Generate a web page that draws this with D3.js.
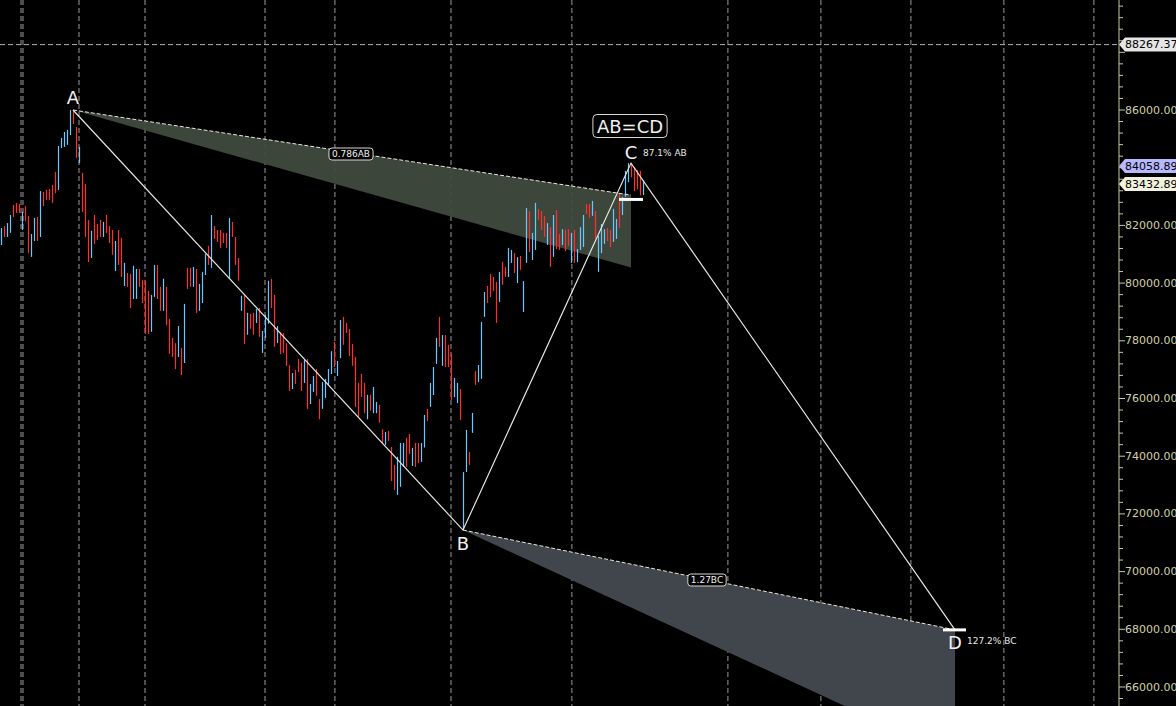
<!DOCTYPE html>
<html>
<head>
<meta charset="utf-8">
<script src="https://cdn.jsdelivr.net/npm/d3@7/dist/d3.min.js"></script>
<style>
  body { margin: 0; background: #000; }
  svg { display: block; }
</style>
</head>
<body>
<div id="chart"></div>
<script>
// bar highs / lows (one bar per session)
const highs = [
  81910, 81980, 82080, 82360, 82710, 82780, 82740, 82470, 82670, 82330,
  81700, 82260, 82290, 83190, 83160, 83230, 83260, 83400, 83850, 84750,
  85030, 85240, 85310, 86000, 86000, 85410, 84720, 83820, 83440, 82190,
  81810, 82360, 82050, 82190, 82120, 82360, 81980, 81840, 81460, 81840,
  81560, 80700, 80350, 80320, 80600, 80490, 80490, 80110, 80080, 79730,
  79590, 80630, 80630, 79870, 80150, 79870, 78760, 78100, 77920, 78510,
  77750, 79280, 80530, 80530, 80560, 80490, 79970, 80390, 81010, 81290,
  82360, 81980, 81840, 81840, 81740, 81740, 82260, 82120, 81600, 80870,
  79560, 79590, 78970, 78940, 78970, 79100, 79140, 78340, 78900, 80080,
  80150, 79590, 78510, 78300, 78270, 77920, 77160, 76880, 76990, 77370,
  77230, 77370, 77370, 76500, 76780, 77020, 75980, 76570, 76680, 77020,
  77640, 77960, 77300, 78720, 78830, 78620, 78410, 77890, 77440, 76540,
  76850, 76540, 76130, 76130, 76400, 75880, 75780, 74940, 74840, 74880,
  74320, 73700, 73980, 74460, 74460, 74630, 74770, 74290, 74460, 74460,
  74460, 75430, 75640, 76540, 77090, 78100, 78830, 78200, 78200, 77860,
  77540, 76710, 76540, 76330, 73450, 74910, 74150, 75500, 76950, 77160,
  78650, 79690, 79900, 80320, 80210, 80040, 80390, 80730, 80560, 81220,
  81150, 81040, 80900, 80940, 80070, 82600, 82500, 81740, 82780, 82570,
  82500, 82330, 82080, 81940, 82360, 82530, 81700, 81870, 81840, 81870,
  81740, 81840, 81180, 81940, 82360, 82740, 82740, 82850, 82500, 81630,
  82050, 81870, 81910, 81840, 82570, 82220, 83090, 82990, 83890, 84160,
  84160, 84020, 83920, 83890, 83570
]
const lows = [
  81320, 81600, 81600, 81740, 82290, 82430, 82430, 81840, 82150, 81050,
  80910, 81460, 81460, 81600, 82670, 82880, 82880, 82780, 83120, 83230,
  84680, 84720, 84790, 85130, 85510, 84340, 84160, 82470, 81600, 80730,
  80870, 81360, 81500, 81600, 81600, 81740, 81390, 80980, 80420, 80630,
  80210, 79900, 79870, 79140, 79450, 79450, 79870, 79310, 78240, 78240,
  78310, 79520, 79450, 79040, 79040, 78550, 77550, 77440, 77020, 77440,
  76810, 77230, 79800, 79870, 79870, 78970, 79040, 79310, 80280, 80630,
  80530, 81530, 81430, 81220, 81390, 81220, 80150, 81600, 80630, 80080,
  79040, 77890, 78210, 78420, 78210, 78620, 78140, 77580, 78100, 78590,
  79140, 77790, 77920, 77540, 77580, 77130, 76260, 76330, 76500, 76920,
  76260, 76540, 75640, 75810, 76230, 76090, 75280, 75640, 76020, 76470,
  76850, 77090, 76780, 77400, 77860, 78270, 77470, 77130, 75710, 75360,
  76060, 75490, 75280, 75580, 75490, 75490, 75160, 74460, 74390, 74530,
  73140, 72830, 72660, 72940, 73630, 73630, 74080, 73660, 73630, 73770,
  73800, 74300, 75220, 75710, 76120, 77200, 77790, 77130, 77090, 77090,
  75950, 76050, 75840, 75260, 71440, 73450, 73700, 74810, 76470, 76570,
  76680, 78830, 79310, 79520, 79730, 78620, 79350, 79940, 80210, 80210,
  80700, 80350, 80000, 80460, 79000, 80700, 81080, 80800, 81150, 82190,
  81840, 81600, 81320, 80560, 80910, 81180, 81150, 81320, 81110, 81290,
  80700, 80700, 80730, 81150, 81250, 82400, 82260, 82330, 81530, 80390,
  81040, 81360, 81460, 81250, 81430, 81530, 81910, 82360, 82990, 83500,
  83670, 83190, 83250, 83040, 83050
]
// u = up bar (blue), d = down bar (red), ten bars per group
const dirGroups = [
  'uduudddudd', 'uududddddu', 'uuuudduddd', 'udddudddud', 'dudduudddd',
  'uudduddddu', 'dudduduuud', 'uddddduddd', 'ududduduuu', 'dduddddudd',
  'duduudduuu', 'uduudddddd', 'dduduuddud', 'dduuuddudd', 'uuduuududd',
  'duuduududu', 'uudddduddu', 'ududuuduud', 'ddududdudd', 'uduuuddudu',
  'uudduuduuu', 'ddddu'
]
const barDir = dirGroups.join('').split('')

// pattern points (bar index, price)
const patternNames = ['A', 'B', 'C', 'D']
const patternIdx = [24, 154, 210, 318]
const patternPrice = [86000, 71440, 84160, 67980]

// fan zones: [value at far end top, value at far end bottom]
const abZone = [83050, 80540]   // ends at C
const bcZone = [67980, 63580]   // ends at D
const levelAB = 82900          // 0.786 AB
const levelD = 67980

const gridIdx = [6.67, 7.33, 26, 48, 88, 111.3, 150, 190.3, 242.3, 273.3, 303.3, 334.3, 364.3]
const hLine = 88267.37
const priceTags = [
  { v: 88267.37, fill: '#e6e6e6' },
  { v: 84058.89, fill: '#b8b8ff' },
  { v: 83432.89, fill: '#f2f2dc' }
]

const width = 1176
const height = 706
const axisX = 1119

const x = d3.scaleLinear().domain([0, 1]).range([1, 4])
const y = d3.scaleLinear().domain([86000, 66000]).range([110, 687])

const svg = d3.select('#chart').append('svg').attr('width', width).attr('height', height)
  .style('font-family', 'DejaVu Sans, sans-serif')
svg.append('rect').attr('width', width).attr('height', height).attr('fill', '#000')

const plot = svg.append('g')

// grid
plot.selectAll('.vgrid').data(gridIdx).enter().append('line')
  .attr('x1', d => x(d)).attr('x2', d => x(d)).attr('y1', 0).attr('y2', height)
  .attr('stroke', '#9a9a9a').attr('stroke-dasharray', '5,3').attr('stroke-width', 1)
plot.append('line').attr('x1', 0).attr('x2', axisX).attr('y1', y(hLine)).attr('y2', y(hLine))
  .attr('stroke', '#b0b0b0').attr('stroke-dasharray', '5,3')

// fan zones
const [iA, iB, iC, iD] = patternIdx
const [pA, pB, pC, pD] = patternPrice
plot.append('path')
  .attr('d', `M${x(iA)},${y(pA)}L${x(iC)},${y(abZone[0])}L${x(iC)},${y(abZone[1])}Z`)
  .attr('fill', '#424b3f').attr('fill-opacity', 0.93)
plot.append('path')
  .attr('d', `M${x(iB)},${y(pB)}L${x(iD)},${y(bcZone[0])}L${x(iD)},${y(bcZone[1])}Z`)
  .attr('fill', '#40464c')

// bars
plot.selectAll('.bar').data(highs).enter().append('line')
  .attr('x1', (d, i) => x(i) + 0.5).attr('x2', (d, i) => x(i) + 0.5)
  .attr('y1', d => y(d)).attr('y2', (d, i) => y(lows[i]))
  .attr('stroke', (d, i) => barDir[i] === 'u' ? '#6cc6ff' : '#ff2f2f')
  .attr('stroke-width', 1.2)

// dashed fan top edges
plot.append('line').attr('x1', x(iA)).attr('y1', y(pA)).attr('x2', x(iC)).attr('y2', y(abZone[0]))
  .attr('stroke', '#e8e8e0').attr('stroke-dasharray', '4,2')
plot.append('line').attr('x1', x(iB)).attr('y1', y(pB)).attr('x2', x(iD)).attr('y2', y(bcZone[0]))
  .attr('stroke', '#e8e8e0').attr('stroke-dasharray', '4,2')

// ABCD legs
const leg = d3.line().x(d => x(d[0])).y(d => y(d[1]))
plot.append('path').datum(patternIdx.map((d, i) => [d, patternPrice[i]]))
  .attr('d', leg).attr('fill', 'none').attr('stroke', '#e6e6e0').attr('stroke-width', 1.2)

// level bars
plot.append('line').attr('x1', x(iC) - 12).attr('x2', x(iC) + 12).attr('y1', y(levelAB)).attr('y2', y(levelAB))
  .attr('stroke', '#fff').attr('stroke-width', 3)
plot.append('line').attr('x1', x(iD) - 12).attr('x2', x(iD) + 11).attr('y1', y(levelD)).attr('y2', y(levelD))
  .attr('stroke', '#fff').attr('stroke-width', 3)

// fan labels
const boxLabel = (cx, cy, text, size, pad, r) => {
  const g = plot.append('g')
  const t = g.append('text').attr('x', cx).attr('y', cy).attr('text-anchor', 'middle')
    .attr('dominant-baseline', 'central').attr('fill', '#f0f0f0').attr('font-size', size).text(text)
  const bb = t.node().getBBox()
  g.insert('rect', 'text').attr('x', bb.x - pad).attr('y', bb.y - 1).attr('width', bb.width + pad * 2)
    .attr('height', bb.height + 2).attr('rx', r).attr('fill', '#000').attr('stroke', '#d8d8d0')
}
boxLabel(351, 154, '0.786AB', 9, 3, 3)
boxLabel(707, 580, '1.27BC', 9, 3, 3)
boxLabel(630, 126, 'AB=CD', 18, 4, 4)

// point labels
const pointLab = [[0, -13], [0, 13], [0, -11], [0, 13]]
plot.selectAll('.plab').data(patternNames).enter().append('text')
  .attr('x', (d, i) => x(patternIdx[i]) + pointLab[i][0])
  .attr('y', (d, i) => y(patternPrice[i]) + pointLab[i][1])
  .attr('text-anchor', 'middle').attr('dominant-baseline', 'central')
  .attr('fill', '#f0f0f0').attr('font-size', 18).text(d => d)
plot.append('text').attr('x', x(iC) + 12).attr('y', 153).attr('fill', '#e8e8e8').attr('font-size', 9)
  .attr('dominant-baseline', 'central').text('87.1% AB')
plot.append('text').attr('x', x(iD) + 12).attr('y', 641).attr('fill', '#e8e8e8').attr('font-size', 9)
  .attr('dominant-baseline', 'central').text('127.2% BC')

// right axis (88000 label sits under the 88267.37 tag, so it is skipped)
const axisG = svg.append('g').attr('transform', `translate(${axisX},0)`)
axisG.append('line').attr('y1', 0).attr('y2', height).attr('stroke', '#c8c8a0')
const minor = d3.range(64000, 90001, 400)
axisG.selectAll('.mt').data(minor).enter().append('line')
  .attr('x1', 0).attr('x2', d => d % 2000 === 0 ? 6 : 4).attr('y1', d => y(d)).attr('y2', d => y(d))
  .attr('stroke', '#c8c8a0')
const major = d3.range(66000, 86001, 2000).filter(d => d !== 84000)
axisG.selectAll('.ml').data(major).enter().append('text')
  .attr('x', 6).attr('y', d => y(d)).attr('dominant-baseline', 'central')
  .attr('fill', '#d0d0a8').attr('font-size', 11).text(d => d3.format('.2f')(d))

const tag = axisG.selectAll('.tag').data(priceTags).enter().append('g')
  .attr('transform', d => `translate(0,${y(d.v)})`)
tag.append('path').attr('d', 'M0,0L6,-7L70,-7L70,7L6,7Z').attr('fill', d => d.fill)
tag.append('text').attr('x', 6).attr('dominant-baseline', 'central').attr('fill', '#000')
  .attr('font-size', 11).text(d => d3.format('.2f')(d.v))
</script>
</body>
</html>
